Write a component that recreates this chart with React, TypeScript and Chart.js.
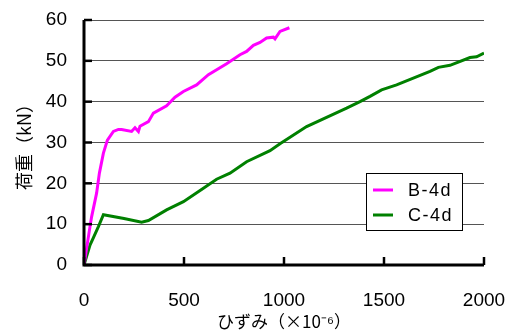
import React, { useEffect, useRef } from "react";
import { Chart, registerables } from "chart.js";

Chart.register(...registerables);

const bStrain = [0, 30, 38, 63, 77, 97, 117, 147, 172, 188, 238, 255, 272, 280, 322, 347, 413, 455, 497, 563, 622, 713, 780, 813, 847, 880, 913, 947, 955, 980, 1027];
const bLoad = [0, 9.4, 11.8, 17.6, 22.5, 27.4, 30.6, 32.7, 33.2, 33.2, 32.7, 33.6, 32.7, 34, 35.1, 37.2, 39, 41.1, 42.5, 44.1, 46.6, 49.3, 51.5, 52.3, 53.8, 54.5, 55.6, 55.8, 55.4, 57.2, 58.1];

const cStrain = [0, 30, 50, 72, 97, 200, 288, 322, 413, 497, 597, 663, 730, 813, 930, 980, 1113, 1313, 1380, 1430, 1488, 1563, 1730, 1772, 1830, 1930, 1963, 2000];
const cLoad = [0, 4.9, 7, 9.4, 12.3, 11.4, 10.5, 10.9, 13.5, 15.5, 18.8, 21, 22.5, 25.3, 28, 29.7, 33.9, 38.4, 40, 41.3, 42.9, 44.1, 47.4, 48.4, 48.9, 50.8, 51, 51.9];

const seriesNames = ["B-4d", "C-4d"];
const seriesColors = ["#FF00FF", "#008000"];
const xTitle = "ひずみ（×10⁻⁶）";
const yTitle = "荷重（kN）";

const FONT = "'Liberation Sans', 'Noto Sans CJK JP', sans-serif";
const JFONT = "'Noto Sans CJK JP', 'Liberation Sans', sans-serif";

const axisPlugin = {
  id: "innerTicksLegend",
  afterDraw(chart: any) {
    const ctx = chart.ctx;
    const xs = chart.scales.x;
    const ys = chart.scales.y;
    const area = chart.chartArea;
    ctx.save();
    ctx.strokeStyle = "#000";
    ctx.lineWidth = 3;
    ctx.beginPath();
    ctx.moveTo(area.left, area.top);
    ctx.lineTo(area.left, area.bottom);
    ctx.lineTo(area.right, area.bottom);
    ctx.stroke();
    ctx.lineWidth = 2.5;
    ys.ticks.forEach((t: any) => {
      const y = ys.getPixelForValue(t.value);
      ctx.beginPath();
      ctx.moveTo(area.left, y);
      ctx.lineTo(area.left + 8, y);
      ctx.stroke();
    });
    xs.ticks.forEach((t: any) => {
      const x = xs.getPixelForValue(t.value);
      ctx.beginPath();
      ctx.moveTo(x, area.bottom);
      ctx.lineTo(x, area.bottom - 8);
      ctx.stroke();
    });
    // legend
    const lx = Math.round(xs.getPixelForValue(1410));
    const ly = Math.round(ys.getPixelForValue(22.5));
    const lw = 96;
    const lh = 57;
    ctx.fillStyle = "#fff";
    ctx.fillRect(lx, ly, lw, lh);
    ctx.strokeStyle = "#000";
    ctx.lineWidth = 1;
    ctx.strokeRect(lx + 0.5, ly + 0.5, lw, lh);
    chart.data.datasets.forEach((ds: any, i: number) => {
      const yy = ly + 17 + i * 25;
      ctx.strokeStyle = ds.borderColor;
      ctx.lineWidth = 3;
      ctx.beginPath();
      ctx.moveTo(lx + 7, yy);
      ctx.lineTo(lx + 27, yy);
      ctx.stroke();
      ctx.fillStyle = "#000";
      ctx.font = "18px " + FONT;
      (ctx as any).letterSpacing = "1.5px";
      ctx.textBaseline = "middle";
      ctx.textAlign = "left";
      ctx.fillText(ds.label, lx + 42, yy + 1);
      (ctx as any).letterSpacing = "0px";
    });
    ctx.restore();
  },
};

export default function App() {
  const ref = useRef<HTMLCanvasElement>(null);
  useEffect(() => {
    document.body.style.margin = "0";
    const chart = new Chart(ref.current!, {
      type: "scatter",
      data: {
        datasets: [
          {
            label: seriesNames[0],
            data: bStrain.map((x, i) => ({ x, y: bLoad[i] })),
            borderColor: seriesColors[0],
            backgroundColor: seriesColors[0],
            showLine: true,
            pointRadius: 0,
            borderWidth: 3,
            tension: 0,
          },
          {
            label: seriesNames[1],
            data: cStrain.map((x, i) => ({ x, y: cLoad[i] })),
            borderColor: seriesColors[1],
            backgroundColor: seriesColors[1],
            showLine: true,
            pointRadius: 0,
            borderWidth: 3,
            tension: 0,
          },
        ],
      },
      options: {
        animation: false,
        responsive: false,
        layout: { padding: { left: 0, right: 23, top: 20, bottom: 0 } },
        plugins: { legend: { display: false }, tooltip: { enabled: false } },
        scales: {
          x: {
            type: "linear",
            min: 0,
            max: 2000,
            ticks: {
              stepSize: 500,
              color: "#000",
              font: { size: 19, family: FONT },
              padding: 24,
              maxRotation: 0,
              callback: (v: any) => String(v),
            },
            grid: { display: false, drawTicks: false },
            border: { display: false },
            title: { display: true, text: xTitle, color: "#000", font: { size: 17, family: JFONT }, padding: 0 },
            afterFit: (s: any) => {
              s.height = 67;
              s.paddingLeft = 0;
              s.paddingRight = 0;
            },
          },
          y: {
            type: "linear",
            min: 0,
            max: 60,
            ticks: { stepSize: 10, color: "#000", font: { size: 19, family: FONT }, padding: 17 },
            grid: { color: "#555", lineWidth: 1, drawTicks: false },
            border: { display: false },
            title: { display: true, text: yTitle, color: "#000", font: { size: 18, family: JFONT }, padding: { top: 13, bottom: 0 } },
            afterFit: (s: any) => {
              s.width = 84;
              s.paddingTop = 0;
              s.paddingBottom = 0;
            },
          },
        },
      },
      plugins: [axisPlugin],
    });
    return () => chart.destroy();
  }, []);
  return (
    <div style={{ position: "relative", width: 507, height: 332 }}>
      <canvas ref={ref} width={507} height={332} style={{ display: "block" }} />
    </div>
  );
}
